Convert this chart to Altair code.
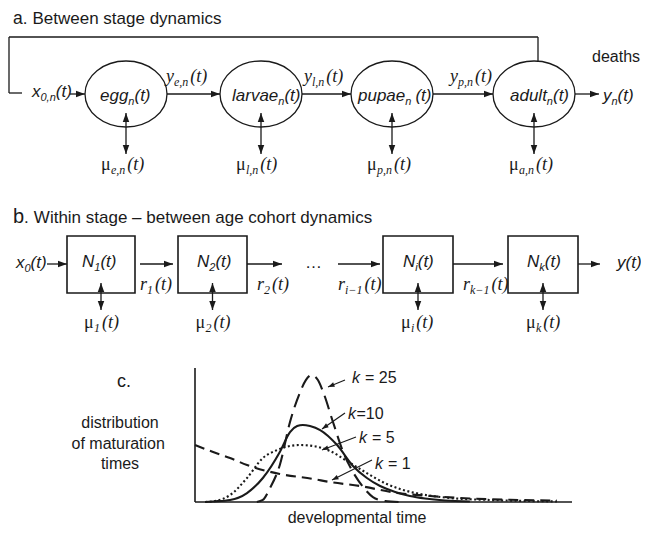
import math
import altair as alt
import pandas as pd

# ------------------------------------------------------------------ data
TITLE_A = "Between stage dynamics"
TITLE_B = "Within stage \u2013 between age cohort dynamics"
STAGES = ["egg", "larvae", "pupae", "adult"]
FLOW_SUBS = ["e,n", "l,n", "p,n"]
MU_SUBS_A = ["e,n", "l,n", "p,n", "a,n"]
COHORT_SUBS = ["1", "2", "i", "k"]
RATE_SUBS = ["1", "2", "i\u22121", "k\u22121"]
K_TEXT = [("k", "= 25", 5), ("k", "=10", 0.5), ("k", "= 5", 5), ("k", "= 1", 5)]
Y_LABEL = ["distribution", "of maturation", "times"]
X_LABEL = "developmental time"

# maturation-time distributions (time units, relative density)
K1_T = [0.0, 0.48, 0.93, 1.38, 2.25, 3.13, 3.58, 4.38, 5.36, 6.23, 7.29, 8.62, 9.60]
K1_D = [0.425, 0.373, 0.328, 0.276, 0.209, 0.172, 0.149, 0.119, 0.067, 0.045, 0.026, 0.015, 0.011]
K5_T = [0.27, 0.53, 0.93, 1.38, 1.80, 2.18, 2.52, 2.79, 3.13, 3.58, 4.03, 4.51, 5.09, 5.52, 5.97, 6.76, 7.82, 8.89, 9.60]
K5_D = [0.0, 0.007, 0.052, 0.179, 0.328, 0.388, 0.418, 0.425, 0.418, 0.381, 0.306, 0.224, 0.134, 0.090, 0.060, 0.030, 0.015, 0.007, 0.004]
K10_T = [0.27, 0.48, 0.93, 1.38, 1.80, 2.25, 2.52, 2.71, 2.86, 3.05, 3.32, 3.77, 4.19, 4.56, 4.91, 5.31, 5.70, 6.10, 6.63, 7.29]
K10_D = [0.0, 0.004, 0.015, 0.067, 0.179, 0.373, 0.522, 0.567, 0.575, 0.567, 0.537, 0.425, 0.269, 0.179, 0.119, 0.075, 0.045, 0.026, 0.011, 0.004]
K25_T = [1.64, 1.80, 1.99, 2.25, 2.52, 2.79, 2.94, 3.10, 3.26, 3.40, 3.66, 3.93, 4.19, 4.46, 4.72, 5.04, 5.44]
K25_D = [0.0, 0.015, 0.104, 0.276, 0.597, 0.821, 0.910, 0.948, 0.910, 0.821, 0.597, 0.373, 0.224, 0.112, 0.037, 0.007, 0.0]

# ------------------------------------------------------------------ layout (page pixels)
STAGE_CX = [126, 261, 392, 534]
STAGE_CY = 94
ELL_RX, ELL_RY = 41, 33
STAGE_TXT_X = [100, 232, 358, 510]
FLOW_TXT_X = [166, 304, 450]
BOX_L = [67, 178, 383, 508]
BOX_R = [135, 247, 453, 578]
BOX_T, BOX_B = 236, 293
BOX_TXT_X = [82, 197, 403, 527]
RATE_TXT_X = [140, 257, 338, 463]
K_TXT_X = [352, 348, 359, 375]
K_TXT_Y = [383, 419, 443, 469]
K_LEADERS = [(345, 380, 328, 387), (345, 413, 322, 429), (356, 437, 322, 450), (372, 460, 332, 480)]

SANS = "Liberation Sans"
SERIF = "Liberation Serif"
INK = "#1a1a1a"

SANS_W = {'a': .556, 'b': .556, 'c': .5, 'd': .556, 'e': .556, 'g': .556, 'h': .556, 'i': .222,
          'k': .5, 'l': .222, 'm': .833, 'n': .556, 'o': .556, 'p': .556, 'r': .333, 's': .5,
          't': .278, 'u': .556, 'v': .5, 'w': .722, 'x': .5, 'y': .5, 'N': .722, 'W': .944,
          'B': .667, '(': .333, ')': .333, ',': .278, '.': .278, ' ': .278, '\u00a0': .278,
          '=': .584, '0': .556, '1': .556, '2': .556, '5': .556, '\u2013': .556, '\u2026': 1.0}
SERIF_W = {'y': .444, 't': .278, '(': .333, ')': .333, 'e': .444, 'n': .5, 'l': .278, 'p': .5,
           'a': .5, 'r': .389, 'i': .278, 'k': .444, '1': .5, '2': .5, '\u2212': .675, ',': .25,
           '\u03bc': .55, '\u2009': .2}

rows = []


def width(text, fam, size):
    table = SANS_W if fam == "sans" else SERIF_W
    return sum(table.get(c, 0.5) for c in text) * size


def put(x, y, pieces):
    for piece in pieces:
        text, fam, style, size, dy = piece[:5]
        gap = piece[5] if len(piece) > 5 else 0
        x += gap
        rows.append(dict(x=x, y=y + dy, text=text, fam=fam, style=style, size=size))
        x += width(text, fam, size)


def sans_sym(x, y, main, sub, tail="(t)", tail_gap=0):
    put(x, y, [(main, "sans", "italic", 17, 0), (sub, "sans", "italic", 11, 4),
               (tail, "sans", "italic", 17, 0, tail_gap)])


def serif_sym(x, y, main, sub, style="italic"):
    put(x, y, [(main, "serif", style, 18, 0), (sub, "serif", "italic", 12, 4),
               ("(t)", "serif", "italic", 18, 0, 2)])


def centered(cx, y, text, size=16):
    put(cx - width(text, "sans", size) / 2, y, [(text, "sans", "normal", size, 0)])


# titles
put(13, 24, [("a", "sans", "normal", 17.5, 0), (".", "sans", "normal", 17, 0),
             (TITLE_A, "sans", "normal", 17, 0, 5)])
put(13, 223, [("b", "sans", "normal", 20, 0), (".", "sans", "normal", 17, 0),
              (TITLE_B, "sans", "normal", 17, 0, 5)])
put(117, 387, [("c.", "sans", "normal", 18, 0)])
put(592, 62, [("deaths", "sans", "normal", 16, 0)])

# panel a
sans_sym(32, 97, "x", "0,n")
for name, tx in zip(STAGES, STAGE_TXT_X):
    sans_sym(tx, 101, name, "n", tail_gap=4 if name == "pupae" else 0)
for sub, tx in zip(FLOW_SUBS, FLOW_TXT_X):
    serif_sym(tx, 82, "y", sub)
sans_sym(603, 101, "y", "n")
for sub, cx in zip(MU_SUBS_A, STAGE_CX):
    serif_sym(cx - 25, 170, "\u03bc", sub, "normal")

# panel b
sans_sym(16, 268, "x", "0")
for sub, tx in zip(COHORT_SUBS, BOX_TXT_X):
    sans_sym(tx, 267, "N", sub)
for sub, tx in zip(RATE_SUBS, RATE_TXT_X):
    serif_sym(tx, 290, "r", sub)
put(305, 268, [("\u2026", "sans", "normal", 17, 0)])
put(617, 268, [("y(t)", "sans", "italic", 17, 0)])
for sub, l, r in zip(COHORT_SUBS, BOX_L, BOX_R):
    serif_sym((l + r) / 2 - 17, 328, "\u03bc", sub, "normal")

# panel c
for line, yy in zip(Y_LABEL, [428, 449, 469]):
    centered(120, yy, line)
centered(357, 523, X_LABEL)
for (kk, rest, gap), tx, ty in zip(K_TEXT, K_TXT_X, K_TXT_Y):
    put(tx, ty, [(kk, "sans", "italic", 16, 0), (rest, "sans", "normal", 16, 0, gap)])

labels = pd.DataFrame(rows)

# line segments and arrow heads
segs, heads = [], []


def seg(x1, y1, x2, y2, w=1.3):
    segs.append(dict(x=x1, y=y1, x2=x2, y2=y2, w=w))


def head(x1, y1, x2, y2, size=324):
    ang = math.degrees(math.atan2(x2 - x1, -(y2 - y1))) % 360
    heads.append(dict(x=x2, y=y2, angle=ang, size=size))


def arrow(x1, y1, x2, y2, both=False, size=324, w=1.3):
    seg(x1, y1, x2, y2, w)
    head(x1, y1, x2, y2, size)
    if both:
        head(x2, y2, x1, y1, size)


# feedback loop
LOOP_X = 9
seg(LOOP_X, 37, 538, 37)
seg(LOOP_X, 37, LOOP_X, 93)
seg(LOOP_X, 93, 22, 93)
seg(538, 37, 538, STAGE_CY - ELL_RY)
arrow(70, 94, STAGE_CX[0] - ELL_RX, 94)
for a, b in zip(STAGE_CX[:-1], STAGE_CX[1:]):
    arrow(a + ELL_RX, 94, b - ELL_RX, 94)
arrow(STAGE_CX[-1] + ELL_RX, 94, 599, 94)
for cx in STAGE_CX:
    arrow(cx, 154, cx, 113, both=True)

arrow(47, 264, BOX_L[0], 264)
arrow(140, 264, 173, 264)
arrow(247, 264, 282, 264)
arrow(338, 264, 380, 264)
arrow(453, 264, 503, 264)
arrow(578, 264, 600, 264)
for l, r in zip(BOX_L, BOX_R):
    c = (l + r) / 2
    arrow(c, 310, c, 283, both=True)

for x1, y1, x2, y2 in K_LEADERS:
    arrow(x1, y1, x2, y2, size=170, w=1.1)

segs = pd.DataFrame(segs)
heads = pd.DataFrame(heads)
ellipses = pd.DataFrame(dict(x=STAGE_CX, y=[STAGE_CY] * 4, stage=STAGES))
boxes = pd.DataFrame(dict(x=BOX_L, x2=BOX_R, y=[BOX_T] * 4, y2=[BOX_B] * 4))

# ------------------------------------------------------------------ chart
W, H = 633, 520
XS = alt.Scale(domain=[8, 8 + W], range=[0, W], zero=False, nice=False)
YS = alt.Scale(domain=[8, 8 + H], range=[0, H], zero=False, nice=False)
X = alt.X("x:Q", scale=XS, axis=None)
Y = alt.Y("y:Q", scale=YS, axis=None)

ratio = ELL_RY / ELL_RX
ELL_PATH = f"M-1,0 A1,{ratio:.3f} 0 1,1 1,0 A1,{ratio:.3f} 0 1,1 -1,0 Z"
HEAD_PATH = "M0,0 L0.36,1 L-0.36,1 Z"

layers = []
layers.append(alt.Chart(segs).mark_rule(color=INK).encode(
    x=X, y=Y, x2="x2:Q", y2="y2:Q", strokeWidth=alt.StrokeWidth("w:Q", scale=None)))
layers.append(alt.Chart(ellipses).mark_point(
    shape=ELL_PATH, size=(2 * ELL_RX) ** 2, color=INK, strokeWidth=1.3, filled=False, opacity=1
).encode(x=X, y=Y))
layers.append(alt.Chart(boxes).mark_rect(
    fillOpacity=0, stroke=INK, strokeWidth=1.6
).encode(x=X, y=Y, x2="x2:Q", y2="y2:Q"))
layers.append(alt.Chart(heads).mark_point(
    shape=HEAD_PATH, filled=True, color=INK, opacity=1, strokeWidth=0
).encode(x=X, y=Y, angle=alt.Angle("angle:Q", scale=None), size=alt.Size("size:Q", scale=None)))

for (fam, style), g in labels.groupby(["fam", "style"]):
    layers.append(alt.Chart(g).mark_text(
        align="left", baseline="alphabetic", font=SANS if fam == "sans" else SERIF,
        fontStyle=style, color=INK
    ).encode(x=X, y=Y, text="text:N", size=alt.Size("size:Q", scale=None)))

# panel c: curves in data units with their own scales
TS = alt.Scale(domain=[0, 10], range=[195 - 8, 572 - 8], zero=False, nice=False)
DS = alt.Scale(domain=[0, 1], range=[502 - 8, 368 - 8], zero=False, nice=False)
TX = alt.X("t:Q", scale=TS, axis=None)
DY = alt.Y("d:Q", scale=DS, axis=None)

axes_c = pd.DataFrame(dict(t=[0, 0], d=[0, 0], t2=[0, 10], d2=[1, 0]))
layers.append(alt.Chart(axes_c).mark_rule(color=INK, strokeWidth=1.6).encode(
    x=TX, y=DY, x2="t2:Q", y2="d2:Q"))

curves = [(K1_T, K1_D, [10, 6]), (K5_T, K5_D, [2, 2.5]), (K10_T, K10_D, None), (K25_T, K25_D, [14, 7])]
for tt, dd, dash in curves:
    kw = dict(color=INK, strokeWidth=2.1, interpolate="monotone")
    if dash:
        kw["strokeDash"] = dash
    layers.append(alt.Chart(pd.DataFrame(dict(t=tt, d=dd))).mark_line(**kw).encode(x=TX, y=DY))

chart = alt.layer(*layers).resolve_scale(x="independent", y="independent").properties(
    width=W, height=H, padding=0, autosize="none", background="white"
).configure_view(stroke=None)

chart.save("out.html", embed_options={"renderer": "svg", "actions": False})
